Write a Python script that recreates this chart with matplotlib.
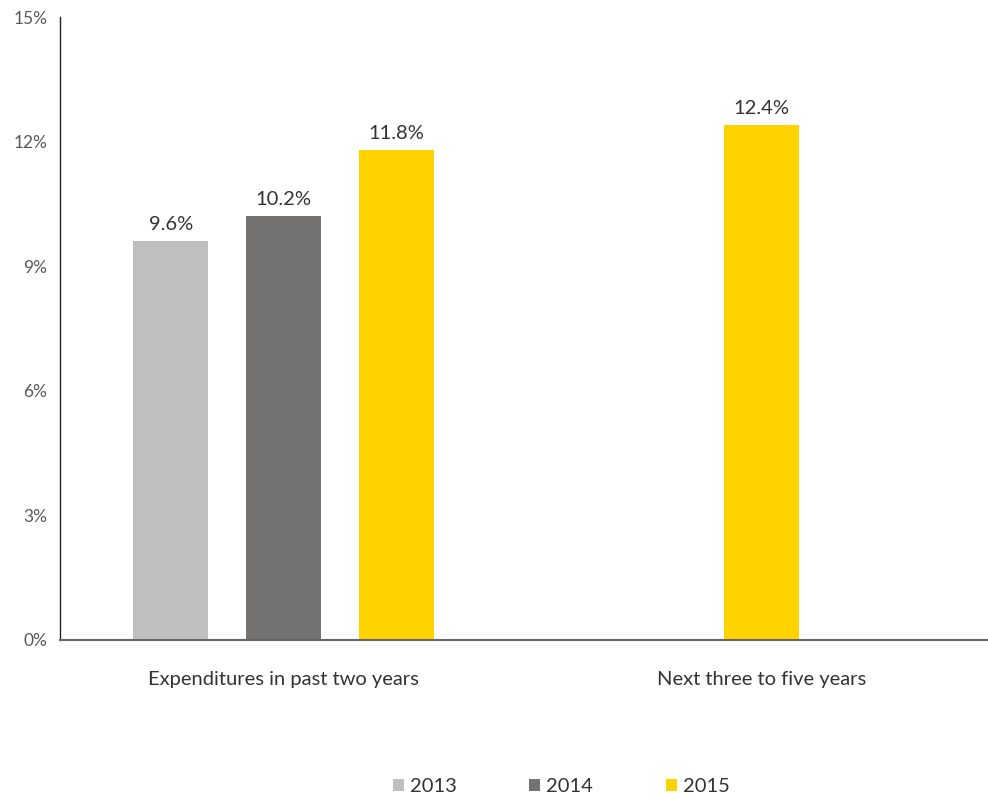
import matplotlib
matplotlib.use("Agg")
import matplotlib.pyplot as plt
from matplotlib.patches import Patch

plt.rcParams['font.family'] = ['Lato', 'DejaVu Sans']

categories = ["Expenditures in past two years", "Next three to five years"]
years = ["2013", "2014", "2015"]
values_2013 = [9.6, None]
values_2014 = [10.2, None]
values_2015 = [11.8, 12.4]
series = [values_2013, values_2014, values_2015]
colors = ["#BFBFBD", "#747372", "#FFD200"]
y_ticks = [0, 3, 6, 9, 12, 15]

fig = plt.figure(figsize=(9.88, 7.99), dpi=100)
ax = fig.add_axes([0.0607, 0.199, 0.938, 0.7797])

bar_w = 0.157
step = 0.236

for ci, cat in enumerate(categories):
    present = [si for si, s in enumerate(series) if s[ci] is not None]
    n = len(present)
    for k, si in enumerate(present):
        x = ci + (k - (n - 1) / 2) * step
        v = series[si][ci]
        ax.bar(x, v, width=bar_w, color=colors[si], zorder=2)
        ax.annotate(f"{v:.1f}%", (x, v), xytext=(0, 6), textcoords="offset points",
                    ha="center", va="bottom", fontsize=14.5, color="#333333")

ax.set_xlim(-0.468, 1.472)
ax.set_ylim(0, 15)
ax.set_yticks(y_ticks)
ax.set_yticklabels([f"{t}%" for t in y_ticks], fontsize=12.5, color="#595959")
ax.set_xticks(range(len(categories)))
ax.set_xticklabels(categories, fontsize=14.5, color="#333333")
ax.tick_params(axis="y", length=0, pad=9)
ax.tick_params(axis="x", length=0, pad=22)

for s in ["top", "right"]:
    ax.spines[s].set_visible(False)
ax.spines["left"].set_color("#222222")
ax.spines["left"].set_linewidth(1.0)
ax.spines["bottom"].set_color("#666666")
ax.spines["bottom"].set_linewidth(1.5)

handles = [Patch(facecolor=c, edgecolor="none") for c in colors]
fig.legend(handles, years, loc="lower center", bbox_to_anchor=(0.568, -0.018),
           ncol=3, frameon=False, fontsize=14.5, handlelength=0.55, handleheight=0.55,
           handletextpad=0.3, columnspacing=3.6, labelcolor="#333333")

fig.savefig("out.png", dpi=100)
